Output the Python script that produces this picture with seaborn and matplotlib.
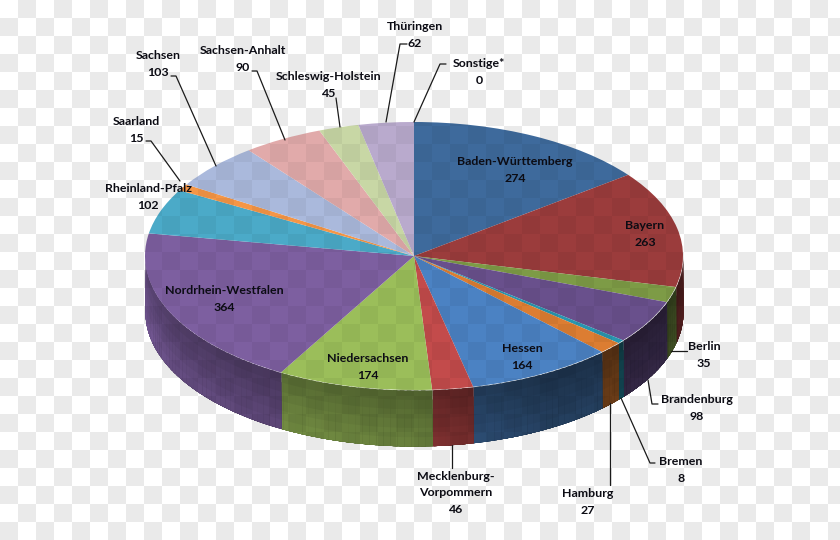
import numpy as np
import matplotlib
matplotlib.use("Agg")
import matplotlib.pyplot as plt
import seaborn as sns

# data, clockwise from the top
states = ["Baden-Württemberg", "Bayern", "Berlin", "Brandenburg", "Bremen", "Hamburg", "Hessen",
          "Mecklenburg-\nVorpommern", "Niedersachsen", "Nordrhein-Westfalen", "Rheinland-Pfalz",
          "Saarland", "Sachsen", "Sachsen-Anhalt", "Schleswig-Holstein", "Thüringen", "Sonstige*"]
counts = [274, 263, 35, 98, 8, 27, 164, 46, 174, 364, 102, 15, 103, 90, 45, 62, 0]
colors = ["#3e6a9c", "#9b3c3c", "#7d9b46", "#69508c", "#2896af", "#dc7d32", "#4b82c3", "#c34b4b",
          "#9bbe5a", "#7d5fa0", "#4baac8", "#f59646", "#aab9dc", "#e1aaaa", "#c8d7a5", "#b9aacd", "#999999"]

# label centres in pixels
label_x = [515, 645, 704, 697, 681, 588, 522, 456, 368, 224, 148, 136, 158, 243, 329, 415, 479]
label_y = [170, 234, 355, 408, 470, 502, 357, 493, 367, 299, 197, 130, 64, 59, 85, 35, 72]

# leader lines in pixels
leaders = [
    [(407, 44), (400, 44), (386, 122)],
    [(446, 64), (440, 64), (414, 122)],
    [(336, 98), (340, 127)],
    [(252, 71), (257, 71), (285, 140)],
    [(171, 76), (176, 76), (216, 166)],
    [(146, 141), (151, 141), (180, 181)],
    [(687, 351), (671, 351)],
    [(658, 404), (652, 404), (648, 380)],
    [(655, 463), (650, 463), (621, 398)],
    [(610, 485), (610, 403)],
    [(452, 468), (452, 445)],
]

W, H = 840, 540
cx, cy, rx, ry, depth = 414, 256, 269, 134, 56

sns.set_theme(style="white")
plt.rcParams["font.family"] = ["Lato", "DejaVu Sans"]

fig = plt.figure(figsize=(W / 100, H / 100), dpi=100)

rows, cols = H // 18 + 1, W // 18 + 1
cells = np.indices((rows, cols)).sum(axis=0) % 2


def checker(axes, alpha):
    sns.heatmap(cells, mask=cells == 0, cmap=["black"], alpha=alpha, cbar=False,
                xticklabels=False, yticklabels=False, ax=axes)
    axes.set_xlim(0, W / 18)
    axes.set_ylim(H / 18, 0)
    axes.patch.set_alpha(0)


# transparency checkerboard behind the pie
ax_back = fig.add_axes([0, 0, 1, 1], zorder=0)
checker(ax_back, 0.035)

# pie surface, squashed into an ellipse
ax = fig.add_axes([0, 0, 1, 1], zorder=1)
palette = sns.color_palette(colors)
ax.pie(counts, colors=palette, startangle=90, counterclock=False, radius=1,
       wedgeprops={"linewidth": 0})
ax.set_aspect("auto")
ax.set_xlim(-cx / rx, (W - cx) / rx)
ax.set_ylim((cy - H) / ry, cy / ry)

# side wall of the pie, shaded by angle and lighter towards the bottom
edges = np.cumsum([0] + counts) / sum(counts) * 360
d = depth / ry
for i, col in enumerate(palette):
    start, end = max(edges[i], 90), min(edges[i + 1], 270)
    if end <= start:
        continue
    steps = np.append(np.arange(start, end, 1.5), end)
    for a0, a1 in zip(steps[:-1], steps[1:]):
        # each slice overlaps the next one so no seams show
        t = np.radians(np.linspace(a0, min(a1 + 1.0, end), 4))
        k = np.interp((a0 + a1) / 2, [90, 110, 150, 180, 200, 240, 270], [.5, .42, .42, .58, .62, .7, .85])
        for lev in np.linspace(0, 1, 7)[:-1]:
            shade = tuple(min(1, c * k * (0.9 + 0.3 * lev)) for c in col)
            ax.fill_between(np.sin(t), np.cos(t) - lev * d, np.cos(t) - d, color=shade, lw=0, zorder=0.5)

# fainter checkerboard on top of the pie
ax_grid = fig.add_axes([0, 0, 1, 1], zorder=2)
checker(ax_grid, 0.047)

# labels and leaders in pixel coordinates
ax_text = fig.add_axes([0, 0, 1, 1], zorder=3)
ax_text.set_xlim(0, W)
ax_text.set_ylim(H, 0)
ax_text.axis("off")
for pts in leaders:
    xs, ys = zip(*pts)
    ax_text.plot(xs, ys, color="#1a1a1a", lw=0.9)
for name, n, x, y in zip(states, counts, label_x, label_y):
    ax_text.text(x, y, f"{name}\n{n}", ha="center", va="center", fontsize=8.9, fontweight="bold",
                 color="#0c0c14", linespacing=1.6)

plt.savefig("out.png", dpi=100)
plt.close()
